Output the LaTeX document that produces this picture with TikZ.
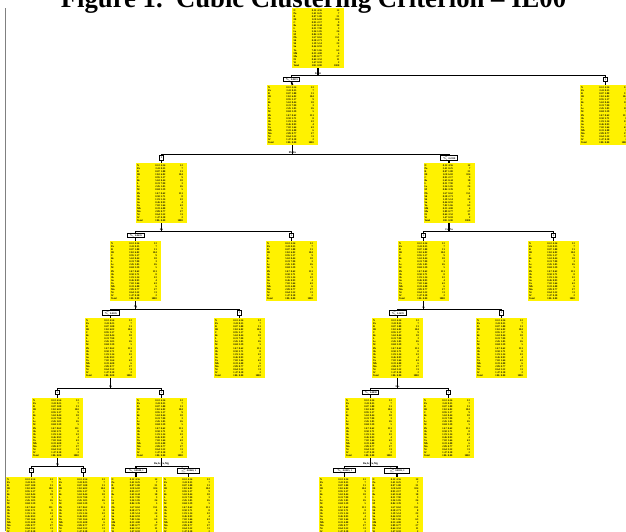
\documentclass[tikz,border=0pt]{standalone}
\usepackage{fontspec}
\setmainfont{Liberation Serif}
\newcommand\rr[4]{\makebox[16pt][l]{#1}\makebox[7pt][r]{#2}\makebox[0.8pt]{}\makebox[7pt][l]{#3}\makebox[15pt][r]{#4}\par}
\newcommand\tbl{\parbox[c][59pt][c]{49pt}{\fontsize{2.6}{3.08}\selectfont\bfseries
\rr{N}{0.12}{4.56}{12}%
\rr{Pa}{3.41}{0.25}{7}%
\rr{R}{0.07}{1.88}{31}%
\rr{IR}{12.0}{6.02}{104}%
\rr{C}{0.95}{2.17}{9}%
\rr{Be}{5.63}{0.44}{18}%
\rr{L}{0.31}{7.90}{3}%
\rr{Le}{2.26}{1.05}{26}%
\rr{M}{0.84}{3.39}{5}%
\rr{Ph}{14.7}{0.62}{151}%
\rr{Sh}{0.58}{2.71}{8}%
\rr{Sb}{1.19}{5.14}{22}%
\rr{Sn}{0.46}{0.93}{4}%
\rr{Ta}{7.02}{1.66}{63}%
\rr{Mb}{0.33}{4.08}{6}%
\rr{Mo}{2.89}{0.77}{27}%
\rr{Ni}{0.64}{3.52}{11}%
\rr{W}{1.47}{0.18}{2}%
\rr{Total}{100.}{0.00}{1000}}}
\newcommand\tsplit[6]{%
  \path (#1.south) ++(0,#2) coordinate (b#1);
  \draw[conn] (#1.south) -- (b#1) -| (lab#3.north);
  \draw[conn] (b#1) -| (lab#4.north);
  \draw[conn] (lab#3.south) -- (#3.north);
  \draw[conn] (lab#4.south) -- (#4.north);
  \node[splitlab, anchor=south] (s#1) at ([yshift=0.9pt]b#1) {#5};
}
\tikzset{
  tbox/.style={fill=yellow, inner sep=0pt, minimum width=51pt, minimum height=60pt, anchor=north},
  lab/.style={draw=black, fill=white, line width=0.7pt, inner sep=0pt, minimum height=4.5pt,
    font=\fontsize{2.5}{2.5}\selectfont\bfseries},
  sq/.style={lab, minimum width=4pt},
  widelab/.style={lab, minimum width=#1},
  conn/.style={line width=1.6pt, black},
  splitlab/.style={font=\fontsize{2.7}{2.7}\selectfont\bfseries, inner sep=0pt}
}
\begin{document}
\begin{tikzpicture}[x=1pt,y=-1pt]
\useasboundingbox (0,0) rectangle (626,531);
\clip (0,0) rectangle (626,531);
% title
\node[font=\fontsize{26.7}{28}\selectfont\bfseries, anchor=base, inner sep=0pt] (title) at (313.5,7)
  {Figure 1.\ \ Cubic Clustering Criterion -- IE00};
% left rule
\draw[gray, line width=0.9pt] (5.7,8) -- (5.7,531);
% boxes
\node[tbox, minimum width=52pt] (root) at (318,7.7) {\tbl};
\node[tbox] (A) at (292.5,85) {\tbl};
\node[tbox] (B) at (605.5,85) {\tbl};
\node[tbox] (C) at (161.5,163) {\tbl};
\node[tbox] (D) at (449,163) {\tbl};
\node[tbox] (E) at (135.5,241) {\tbl};
\node[tbox] (F) at (291.5,241) {\tbl};
\node[tbox] (G) at (423.5,241) {\tbl};
\node[tbox] (H) at (553.5,241) {\tbl};
\node[tbox] (I) at (110.5,318) {\tbl};
\node[tbox] (J) at (239.5,318) {\tbl};
\node[tbox] (K) at (397.5,318) {\tbl};
\node[tbox] (L) at (501.5,318) {\tbl};
\node[tbox] (M) at (57.5,398) {\tbl};
\node[tbox] (N) at (161.5,398) {\tbl};
\node[tbox] (O) at (370.5,398) {\tbl};
\node[tbox] (P) at (448.5,398) {\tbl};
\node[tbox] (Q) at (31.5,477) {\tbl};
\node[tbox] (R) at (83.5,477) {\tbl};
\node[tbox] (S) at (136,477) {\tbl};
\node[tbox] (T) at (188.5,477) {\tbl};
\node[tbox] (U) at (344.5,477) {\tbl};
\node[tbox] (V) at (397,477) {\tbl};
% branch labels
\node[widelab=16pt] (labA) at (291.5,79.5) {$<$ 0.0415};
\node[sq] (labB) at (605.5,79.5) {1};
\node[sq] (labC) at (161.5,158) {1};
\node[widelab=17pt] (labD) at (449,158) {$<$ 0.2250};
\node[widelab=17pt] (labE) at (135.5,235.5) {$<$ 0.0635};
\node[sq] (labF) at (291.5,235.5) {1};
\node[sq] (labG) at (423.5,235.5) {1};
\node[sq] (labH) at (553.5,235.5) {1};
\node[widelab=17pt] (labI) at (110.5,313) {$<$ 0.0185};
\node[sq] (labJ) at (239.5,313) {1};
\node[widelab=17pt] (labK) at (397.5,313) {$<$ 0.1470};
\node[sq] (labL) at (501.5,313) {1};
\node[sq] (labM) at (57.5,392.5) {1};
\node[sq] (labN) at (161.5,392.5) {1};
\node[widelab=16pt] (labO) at (370.5,392.5) {$<$ 0.0830};
\node[sq] (labP) at (448.5,392.5) {1};
\node[sq] (labQ) at (31.5,470.5) {1};
\node[sq] (labR) at (83.5,470.5) {1};
\node[widelab=21pt] (labS) at (136,470.5) {$<$ 0.0040, 1};
\node[widelab=22pt] (labT) at (188.5,470.5) {$\geq$ 0.0040, 1};
\node[widelab=22pt] (labU) at (344.5,470.5) {$<$ 0.0025, 1};
\node[widelab=25pt] (labV) at (397,470.5) {$\geq$ 0.0025, 1};
% connectors
\tsplit{root}{7.3}{A}{B}{Fe/Si}{}
\tsplit{A}{9}{C}{D}{Pb/Zn}{}
\tsplit{C}{8}{E}{F}{Zn}{}
\tsplit{D}{8}{G}{H}{Cu/Zn}{}
\tsplit{E}{8}{I}{J}{Ag}{}
\tsplit{G}{8}{K}{L}{As}{}
\tsplit{I}{10}{M}{N}{Sb}{}
\tsplit{K}{10}{O}{P}{Mo}{}
\tsplit{M}{8}{Q}{R}{Ni}{}
\tsplit{N}{8}{S}{T}{Ba,Sr,Ca,Mg}{}
\tsplit{O}{8}{U}{V}{Ba,Sr,Ca,Mg}{}
\end{tikzpicture}
\end{document}
